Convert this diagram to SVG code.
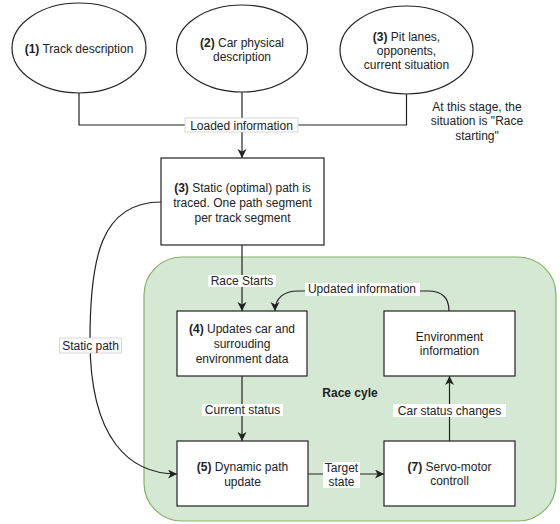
<svg xmlns="http://www.w3.org/2000/svg" width="560" height="524" viewBox="0 0 560 524">
<defs>
<style>
text{font-family:"Liberation Sans",Arial,sans-serif;font-size:12px;fill:#222;text-anchor:middle}
.b{font-weight:bold}
.node{fill:#fff;stroke:#222;stroke-width:1.2}
.edge{fill:none;stroke:#222;stroke-width:1.2}
.lbl{fill:#fff;stroke:none}
.lblb{fill:#fff;stroke:#ccc;stroke-width:0.8}
</style>
<marker id="arr" markerUnits="userSpaceOnUse" markerWidth="12" markerHeight="12" refX="9" refY="4.5" orient="auto">
<path d="M0,0 L9,4.5 L0,9 L2.5,4.5 Z" fill="#222"/>
</marker>
</defs>
<rect width="560" height="524" fill="#fff"/>
<g id="race-cycle">
<rect x="144" y="257" width="412" height="264" rx="38" fill="#d5e8d4" stroke="#82b366" stroke-width="1.2"/>
<text x="350" y="397" class="b">Race cyle</text>
</g>
<g id="n1">
<ellipse cx="79" cy="48" rx="67" ry="45" class="node"/>
<text x="79" y="53"><tspan class="b">(1)</tspan> Track description</text>
</g>
<g id="n2">
<ellipse cx="242" cy="48.5" rx="65.5" ry="43.5" class="node"/>
<text x="242" y="47"><tspan class="b">(2)</tspan> Car physical</text>
<text x="242" y="61">description</text>
</g>
<g id="n3">
<ellipse cx="406.5" cy="50" rx="66.5" ry="44" class="node"/>
<text x="406.5" y="41"><tspan class="b">(3)</tspan> Pit lanes,</text>
<text x="406.5" y="55">opponents,</text>
<text x="406.5" y="69">current situation</text>
</g>
<g id="note">
<text x="477" y="111">At this stage, the</text>
<text x="477" y="125">situation is "Race</text>
<text x="477" y="140">starting"</text>
</g>
<g id="n3b">
<rect x="161" y="158" width="163" height="87" class="node"/>
<text x="242.5" y="192"><tspan class="b">(3)</tspan> Static (optimal) path is</text>
<text x="242.5" y="207">traced. One path segment</text>
<text x="242.5" y="222">per track segment</text>
</g>
<g id="n4">
<rect x="177" y="311" width="130" height="65" class="node"/>
<text x="242" y="333"><tspan class="b">(4)</tspan> Updates car and</text>
<text x="242" y="348">surrouding</text>
<text x="242" y="363">environment data</text>
</g>
<g id="n-env">
<rect x="384" y="311" width="131" height="65" class="node"/>
<text x="449.5" y="341">Environment</text>
<text x="449.5" y="355">information</text>
</g>
<g id="n5">
<rect x="177" y="441" width="131" height="65" class="node"/>
<text x="242.5" y="471"><tspan class="b">(5)</tspan> Dynamic path</text>
<text x="242.5" y="486">update</text>
</g>
<g id="n7">
<rect x="384" y="441" width="131" height="65" class="node"/>
<text x="449.5" y="471"><tspan class="b">(7)</tspan> Servo-motor</text>
<text x="449.5" y="485">controll</text>
</g>
<g id="connectors">
<path d="M79,93 V125 H406.5 V94" class="edge"/>
<path d="M242,92 V158" class="edge" marker-end="url(#arr)"/>
<rect x="185" y="118" width="113" height="14" class="lblb"/>
<text x="241.5" y="129.5">Loaded information</text>
<path d="M242,245 V311" class="edge" marker-end="url(#arr)"/>
<rect x="208" y="275" width="68" height="12" class="lbl"/>
<text x="242" y="285">Race Starts</text>
<path d="M449,311 C449,298 442,291 428,291 L298,291 C284,291 275,298 275,311" class="edge" marker-end="url(#arr)"/>
<rect x="305" y="283" width="115" height="13" class="lbl"/>
<text x="362" y="293">Updated information</text>
<path d="M242,376 V441" class="edge" marker-end="url(#arr)"/>
<rect x="202" y="404" width="81" height="12" class="lbl"/>
<text x="242.5" y="414">Current status</text>
<path d="M161,202 C100,202 90,260 90,340 C90,440 130,474 177,474" class="edge" marker-end="url(#arr)"/>
<rect x="59.5" y="338" width="62" height="15" class="lblb"/>
<text x="90.5" y="349.5">Static path</text>
<path d="M308,474 H384" class="edge" marker-end="url(#arr)"/>
<rect x="323" y="462" width="37" height="26" class="lbl"/>
<text x="341.5" y="472">Target</text>
<text x="341.5" y="486">state</text>
<path d="M449.5,441 V376" class="edge" marker-end="url(#arr)"/>
<rect x="393" y="404" width="113" height="13" class="lbl"/>
<text x="449.5" y="414.5">Car status changes</text>
</g>
</svg>
